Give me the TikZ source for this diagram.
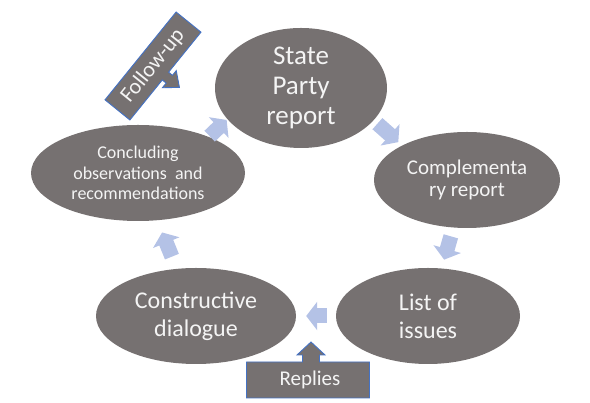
\documentclass[tikz,border=0pt]{standalone}
\usepackage{fontspec}
\setmainfont{Carlito}
\usetikzlibrary{arrows.meta,shapes.geometric}
\definecolor{stagegray}{HTML}{767171}
\definecolor{stagetext}{HTML}{F4F4F4}
\definecolor{cyclearrow}{HTML}{B4C2E6}
\definecolor{boxline}{HTML}{4472C4}

\begin{document}
\begin{tikzpicture}[x=1pt,y=1pt]
\tikzstyle{stage}=[ellipse, fill=stagegray, text=stagetext, inner sep=0pt, align=center]
\tikzstyle{cyc}=[draw=cyclearrow, line width=15pt, -{Triangle[length=11pt,width=28pt]}]
\tikzstyle{callout}=[fill=stagegray, draw=boxline, line width=0.9pt]
    \useasboundingbox (0,0) rectangle (590,403);
    \node[stage, minimum width=172pt, minimum height=120pt, font=\fontsize{27}{30}\selectfont] (sp) at (301,315) {State\\Party\\report};
    \node[stage, minimum width=186pt, minimum height=96pt, font=\fontsize{21}{22}\selectfont] (cr) at (467,223) {Complementa\\ry report};
    \node[stage, minimum width=184pt, minimum height=96pt, font=\fontsize{24}{28}\selectfont] (li) at (428,87) {List of\\issues};
    \node[stage, minimum width=200pt, minimum height=96pt, font=\fontsize{24}{28}\selectfont] (cd) at (196,87) {Constructive\\dialogue};
    \node[stage, minimum width=214pt, minimum height=96pt, font=\fontsize{18}{20.5}\selectfont] (cc) at (138,230) {Concluding\\observations\ \ and\\recommendations};
    % cycle arrows
    \draw[cyc, shorten <=5pt, shorten >=5pt] (sp.-24) -- (cr.152);
    \draw[cyc, shorten <=9pt, shorten >=9pt] (cr) -- (li);
    \draw[cyc, shorten <=9pt, shorten >=10pt] (li) -- (cd);
    \draw[cyc, shorten <=13pt, shorten >=13pt] (cd) -- (cc);
    \draw[cyc, shorten <=1pt, shorten >=1pt] (cc.27) -- (sp.203);
    % follow-up callout
    \coordinate (fuc) at (153,337);
    \begin{scope}[shift={(fuc)}, rotate=51]
    \draw[callout] (-56.5,16) -- (56.5,16) -- (56.5,-16) -- (5,-16) -- (5,-21) -- (11,-21) -- (0,-34) -- (-11,-21) -- (-5,-21) -- (-5,-16) -- (-56.5,-16) -- cycle;
    \end{scope}
    \node[rotate=51, text=stagetext, font=\fontsize{22}{26}\selectfont] (fu) at (fuc) {Follow-up};
    % replies callout
    \coordinate (rpc) at (308,23);
    \begin{scope}[shift={(rpc)}]
    \draw[callout] (-61.5,-18) -- (61.5,-18) -- (61.5,18) -- (11.5,18) -- (11.5,25) -- (17,25) -- (3,38) -- (-11,25) -- (-5.5,25) -- (-5.5,18) -- (-61.5,18) -- cycle;
    \end{scope}
    \node[text=stagetext, font=\fontsize{21}{25}\selectfont] (rp) at ([xshift=2pt]rpc) {Replies};
\end{tikzpicture}
\end{document}
